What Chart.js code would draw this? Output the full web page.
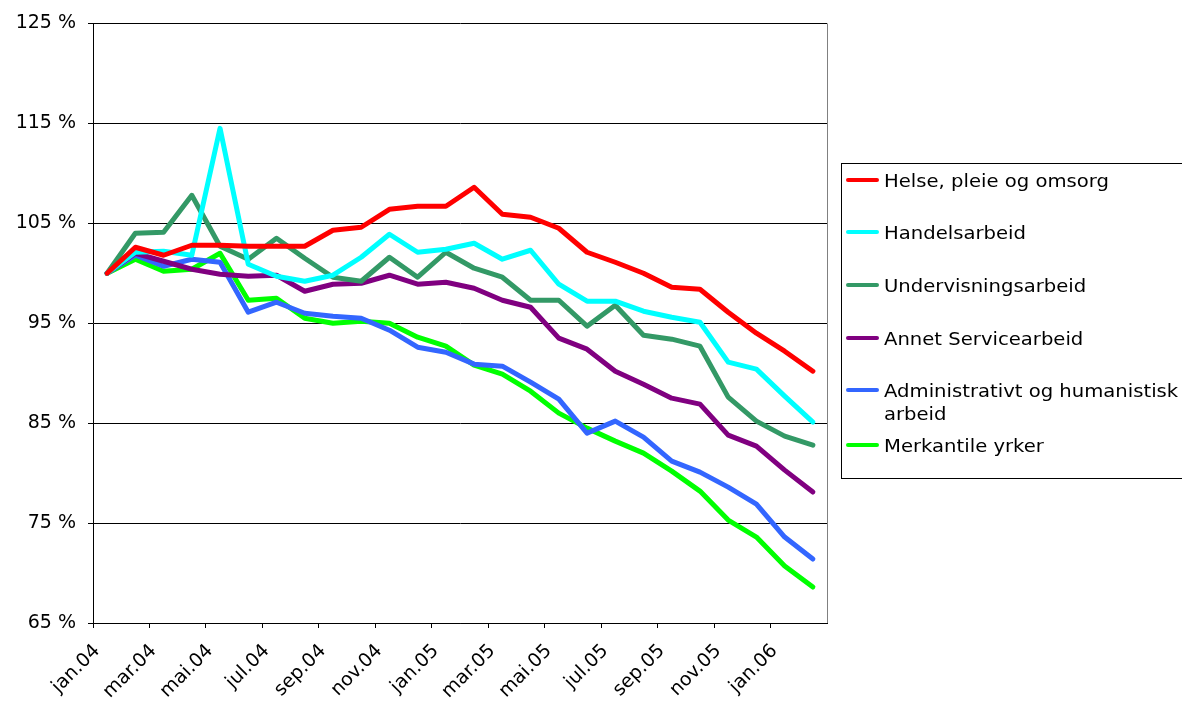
<!DOCTYPE html>
<html>
<head>
<meta charset="utf-8">
<script src="https://cdn.jsdelivr.net/npm/chart.js@4/dist/chart.umd.min.js"></script>
<style>
  html, body { margin: 0; padding: 0; background: #fff; overflow: hidden; }
  #wrap { position: relative; width: 1182px; height: 706px; }
  #c { position: absolute; left: 0; top: 0; }
  #legend {
    position: absolute; left: 841px; top: 163px; width: 400px; height: 316px;
    border: 1px solid #000; box-sizing: border-box;
    font-family: "DejaVu Sans", Verdana, sans-serif; font-size: 18px; color: #000;
  }
  .item { position: absolute; left: 4px; display: flex; align-items: flex-start; line-height: 23px; }
  .swatch { width: 33px; height: 4px; border-radius: 2px; margin-top: 9px; margin-right: 5px; flex: none; }
  .txt { width: 280px; transform: scaleX(1.09); transform-origin: left top; }
</style>
</head>
<body>
<div id="wrap">
  <canvas id="c" width="1182" height="706"></canvas>
  <div id="legend"></div>
</div>
<script>
// ---- data ----
const categories = [
  "jan.04","feb.04","mar.04","apr.04","mai.04","jun.04","jul.04","aug.04","sep.04","okt.04","nov.04","des.04",
  "jan.05","feb.05","mar.05","apr.05","mai.05","jun.05","jul.05","aug.05","sep.05","okt.05","nov.05","des.05",
  "jan.06","feb.06"
];
const seriesNames = [
  "Helse, pleie og omsorg",
  "Handelsarbeid",
  "Undervisningsarbeid",
  "Annet Servicearbeid",
  "Administrativt og humanistisk arbeid",
  "Merkantile yrker"
];
const helse = [100, 102.6, 101.8, 102.8, 102.8, 102.7, 102.7, 102.7, 104.3, 104.6, 106.4, 106.7, 106.7, 108.6, 105.9, 105.6, 104.5, 102.1, 101.1, 100.0, 98.6, 98.4, 96.1, 94.0, 92.2, 90.2];
const handel = [100, 102.1, 102.2, 101.8, 114.5, 100.9, 99.7, 99.2, 99.8, 101.6, 103.9, 102.1, 102.4, 103.0, 101.4, 102.3, 98.9, 97.2, 97.2, 96.2, 95.6, 95.1, 91.1, 90.4, 87.7, 85.1];
const undervisning = [100, 104.0, 104.1, 107.8, 102.7, 101.4, 103.5, 101.5, 99.6, 99.2, 101.6, 99.6, 102.1, 100.5, 99.6, 97.3, 97.3, 94.7, 96.8, 93.8, 93.4, 92.7, 87.6, 85.2, 83.7, 82.8];
const annet = [100, 102.0, 101.2, 100.4, 99.9, 99.7, 99.8, 98.2, 98.9, 99.0, 99.8, 98.9, 99.1, 98.5, 97.3, 96.6, 93.5, 92.4, 90.2, 88.9, 87.5, 86.9, 83.8, 82.7, 80.3, 78.1];
const admin = [100, 101.8, 100.7, 101.4, 101.1, 96.1, 97.1, 96.0, 95.7, 95.5, 94.3, 92.6, 92.1, 90.9, 90.7, 89.1, 87.4, 84.0, 85.2, 83.6, 81.2, 80.1, 78.6, 76.9, 73.6, 71.4];
const merkantile = [100, 101.4, 100.2, 100.4, 102.0, 97.3, 97.5, 95.5, 95.0, 95.2, 95.0, 93.6, 92.7, 90.8, 89.9, 88.2, 86.0, 84.5, 83.2, 82.0, 80.2, 78.2, 75.3, 73.6, 70.7, 68.6];
const yMin = 65, yMax = 125, yStep = 10;

const seriesValues = [helse, handel, undervisning, annet, admin, merkantile];
const seriesColors = ["#FF0000", "#00FFFF", "#339966", "#800080", "#3366FF", "#00FF00"];

const FONT = "'DejaVu Sans', Verdana, sans-serif";

const rightBorder = {
  id: 'rightBorder',
  afterDraw(chart) {
    const {ctx, chartArea: a} = chart;
    ctx.save();
    ctx.strokeStyle = '#808080';
    ctx.lineWidth = 1;
    ctx.beginPath();
    ctx.moveTo(a.right + 0.5, a.top);
    ctx.lineTo(a.right + 0.5, a.bottom);
    ctx.stroke();
    ctx.restore();
  }
};

const chart = new Chart(document.getElementById('c'), {
  type: 'line',
  data: {
    labels: categories,
    datasets: seriesNames.map((name, i) => ({
      label: name,
      data: seriesValues[i],
      borderColor: seriesColors[i],
      backgroundColor: seriesColors[i],
      borderWidth: 5,
      pointRadius: 0,
      tension: 0,
      borderJoinStyle: 'round',
      borderCapStyle: 'round'
    }))
  },
  plugins: [rightBorder],
  options: {
    responsive: false,
    animation: false,
    layout: { padding: { left: 0, right: 355, top: 20, bottom: 0 } },
    plugins: { legend: { display: false }, tooltip: { enabled: false } },
    scales: {
      x: {
        type: 'category',
        offset: true,
        afterFit(s) { s.height = 83; },
        grid: {
          offset: true,
          drawOnChartArea: false,
          drawTicks: true,
          tickLength: 5,
          tickColor: (c) => (c.index % 2 === 0 ? '#000' : 'rgba(0,0,0,0)')
        },
        border: { color: '#000', width: 1 },
        ticks: {
          autoSkip: false,
          maxRotation: 45,
          minRotation: 45,
          labelOffset: -10,
          padding: 12,
          color: '#000',
          font: { family: FONT, size: 19 },
          callback: function (v, i) { return i % 2 === 0 ? this.getLabelForValue(v) : ''; }
        }
      },
      y: {
        min: yMin,
        max: yMax,
        afterFit(s) { s.width = 93; },
        grid: { color: '#000', lineWidth: 1, tickLength: 5, tickColor: '#000' },
        border: { color: '#000', width: 1 },
        ticks: {
          stepSize: yStep,
          padding: 12,
          color: '#000',
          font: { family: FONT, size: 19 },
          callback: (v) => v + ' %'
        }
      }
    }
  }
});

// HTML legend built from the chart datasets
const legend = document.getElementById('legend');
const tops = [5, 57, 110, 163, 215, 270];
chart.data.datasets.forEach((ds, i) => {
  const item = document.createElement('div');
  item.className = 'item';
  item.style.top = tops[i] + 'px';
  const sw = document.createElement('div');
  sw.className = 'swatch';
  sw.style.background = ds.borderColor;
  const tx = document.createElement('div');
  tx.className = 'txt';
  tx.textContent = ds.label;
  item.appendChild(sw);
  item.appendChild(tx);
  legend.appendChild(item);
});
</script>
</body>
</html>
